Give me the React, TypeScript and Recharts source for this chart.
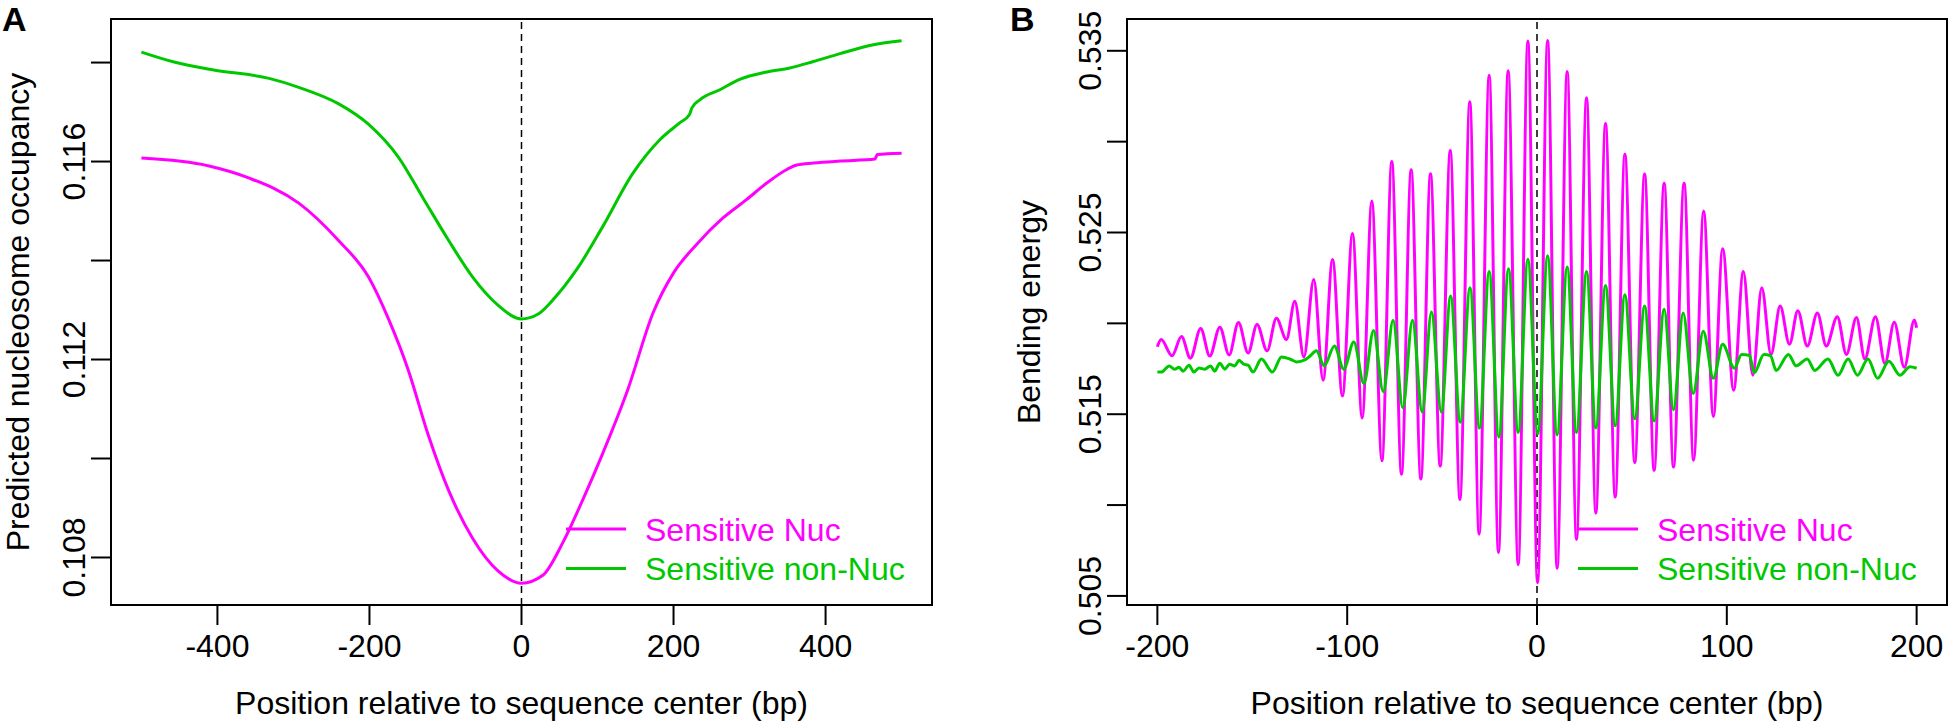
import React from "react";
import {
  LineChart,
  Line,
  XAxis,
  YAxis,
  ReferenceLine,
  ReferenceArea,
  Legend,
} from "recharts";

const FONT = '"Liberation Sans", Arial, Helvetica, sans-serif';
const NUC = "#ff00ff";
const NON_NUC = "#00c800";

// Panel A: predicted nucleosome occupancy
const occNucPos = [-500, -411, -359, -293, -241, -201, -175, -149, -123, -96, -64, -31, 0, 28, 54, 81, 107, 140, 173, 200, 230, 265, 296, 323, 349, 362, 384, 419, 465, 468, 500];
const occNucVal = [0.11607, 0.11591, 0.11567, 0.11516, 0.11441, 0.11366, 0.11282, 0.11179, 0.11049, 0.10936, 0.10838, 0.10773, 0.10748, 0.10764, 0.10829, 0.10918, 0.11011, 0.11140, 0.11294, 0.11375, 0.11432, 0.11486, 0.11523, 0.11557, 0.11584, 0.11593, 0.11597, 0.11601, 0.11605, 0.11614, 0.11617];
const occNonPos = [-500, -457, -405, -332, -293, -241, -201, -162, -129, -96, -64, -31, 0, 22, 41, 74, 107, 146, 182, 208, 221, 224, 235, 261, 287, 323, 353, 384, 419, 463, 500];
const occNonVal = [0.11821, 0.11801, 0.11785, 0.11768, 0.1175, 0.11717, 0.11675, 0.11609, 0.11525, 0.11441, 0.11366, 0.1131, 0.11282, 0.11292, 0.1132, 0.11385, 0.11469, 0.11575, 0.11644, 0.11678, 0.11695, 0.11708, 0.11725, 0.11745, 0.11766, 0.11781, 0.11789, 0.11802, 0.11818, 0.11836, 0.11844];

// Panel B: bending energy (peaks and troughs)
const bendNucPos = [-200, -198, -192.3, -187.3, -182.6, -177.2, -172.4, -167.1, -162.2, -157.3, -152.2, -147.5, -142.2, -137.3, -132, -127.6, -122.8, -117.6, -112.7, -107.7, -102.5, -97.2, -92.1, -87, -81.7, -76.5, -71.4, -66.3, -61.2, -56.1, -51, -45.7, -40.6, -35.4, -30.5, -25.2, -20.3, -15.2, -9.9, -4.8, 0.3, 5.6, 10.6, 15.9, 20.8, 26.1, 31, 36.1, 41.2, 46.3, 51.5, 56.7, 61.7, 67, 71.9, 77.5, 82.5, 87.8, 92.9, 97.8, 103.6, 108.7, 113.7, 118.4, 123.3, 128.1, 133, 137.4, 142.4, 147.7, 152.4, 158.2, 163, 168.3, 172.7, 178.3, 183.3, 188.2, 193.5, 198.8, 200];
const bendNucVal = [0.51871, 0.51911, 0.51822, 0.51927, 0.51808, 0.51972, 0.5182, 0.51979, 0.51826, 0.52005, 0.51837, 0.51994, 0.51849, 0.52028, 0.51911, 0.52122, 0.51815, 0.52241, 0.51687, 0.52351, 0.516, 0.52494, 0.51479, 0.52673, 0.51244, 0.52891, 0.5117, 0.52846, 0.51143, 0.52823, 0.51214, 0.52951, 0.51031, 0.5322, 0.5084, 0.53366, 0.50739, 0.5339, 0.50672, 0.53554, 0.50573, 0.53556, 0.50652, 0.53386, 0.50811, 0.53242, 0.50956, 0.531, 0.51044, 0.52931, 0.51234, 0.52822, 0.51191, 0.52771, 0.51209, 0.52771, 0.51247, 0.52619, 0.51487, 0.52411, 0.51632, 0.52285, 0.51715, 0.52196, 0.51829, 0.52095, 0.51885, 0.5207, 0.51875, 0.52057, 0.51875, 0.52037, 0.51829, 0.52032, 0.51804, 0.52037, 0.51779, 0.52006, 0.51758, 0.52019, 0.51976];
const bendNonPos = [-200, -197.9, -193.8, -190.9, -188.6, -186.5, -183.3, -180.8, -178, -175, -172, -169.8, -167.1, -164.5, -161.9, -159.2, -157, -154.5, -152.2, -149.6, -145.2, -139.4, -134.6, -130.2, -126.7, -122.3, -119.7, -116.2, -112.1, -106.7, -101.8, -96.5, -91.2, -86.1, -81, -75.8, -70.7, -65.6, -60.5, -55.6, -50.4, -45.5, -40.4, -35.3, -30.3, -25.2, -20.1, -15, -9.9, -4.8, 0.4, 5.6, 10.6, 15.9, 20.8, 26.1, 31, 36.1, 41.2, 46.3, 51.5, 56.7, 61.7, 67, 71.9, 77, 82.3, 87.6, 92.9, 97.8, 104, 107.8, 111.9, 114.5, 119.5, 123, 126, 132.5, 136.5, 142.4, 146.3, 153.3, 158.6, 163.9, 168.8, 174.4, 179.4, 185.4, 191.2, 196.5, 200];
const bendNonVal = [0.51732, 0.51732, 0.51766, 0.51748, 0.51759, 0.51737, 0.51769, 0.51732, 0.51754, 0.51748, 0.51766, 0.51737, 0.51781, 0.51748, 0.51775, 0.51766, 0.51797, 0.51775, 0.5177, 0.51732, 0.51804, 0.51732, 0.51815, 0.51804, 0.51788, 0.51799, 0.51819, 0.51849, 0.51766, 0.51876, 0.51748, 0.51898, 0.51669, 0.51961, 0.51624, 0.52017, 0.51535, 0.52017, 0.51512, 0.52062, 0.51512, 0.52151, 0.51456, 0.52196, 0.51423, 0.52286, 0.51374, 0.52301, 0.514, 0.52353, 0.51392, 0.52372, 0.51386, 0.5231, 0.51399, 0.52285, 0.51424, 0.52209, 0.51437, 0.52158, 0.51475, 0.52095, 0.51462, 0.52077, 0.51525, 0.52057, 0.51614, 0.51956, 0.51698, 0.51885, 0.51753, 0.51829, 0.51824, 0.51728, 0.51829, 0.51822, 0.51741, 0.51829, 0.51766, 0.51804, 0.51741, 0.51804, 0.51715, 0.51804, 0.51715, 0.51804, 0.51698, 0.51791, 0.51715, 0.51761, 0.51753];

const ticksXA = [-400, -200, 0, 200, 400];
const ticksYA = [0.108, 0.11, 0.112, 0.114, 0.116, 0.118];
const labelsYA = ["0.108", "0.112", "0.116"];
const ticksXB = [-200, -100, 0, 100, 200];
const ticksYB = [0.505, 0.51, 0.515, 0.52, 0.525, 0.53, 0.535];
const labelsYB = ["0.505", "0.515", "0.525", "0.535"];

const seriesNames = ["Sensitive Nuc", "Sensitive non-Nuc"];

const toPoints = (xs: number[], ys: number[]) => xs.map((x, i) => ({ x, y: ys[i] }));

const makeYTick = (labels: string[]) => (props: any) => {
  const { x, y, payload } = props;
  const txt = Number(payload.value).toFixed(3);
  if (!labels.includes(txt)) return <g />;
  const tx = x - 6;
  return (
    <text x={tx} y={y} transform={`rotate(-90 ${tx} ${y})`} textAnchor="middle" fontSize={32} fontFamily={FONT} fill="#000">
      {txt}
    </text>
  );
};

const XTick = (props: any) => {
  const { x, y, payload } = props;
  return (
    <text x={x} y={y + 32} textAnchor="middle" fontSize={32} fontFamily={FONT} fill="#000">
      {String(payload.value)}
    </text>
  );
};

const renderLegend = (props: any) => {
  const { payload } = props;
  return (
    <svg width={380} height={90} style={{ display: "block" }}>
      {(payload || []).map((p: any, i: number) => {
        const cy = 20 + i * 39.5;
        return (
          <g key={i}>
            <line x1={0} x2={60} y1={cy} y2={cy} stroke={p.color} strokeWidth={3} />
            <text x={79} y={cy + 11.5} fontSize={32} fontFamily={FONT} fill={p.color}>
              {p.value}
            </text>
          </g>
        );
      })}
    </svg>
  );
};

interface PanelProps {
  width: number;
  yAxisWidth: number;
  rightMargin: number;
  xDomain: [number, number];
  yDomain: [number, number];
  xTicks: number[];
  yTicks: number[];
  yLabels: string[];
  nuc: { x: number; y: number }[];
  non: { x: number; y: number }[];
  legendLeft: number;
}

function Panel({ width, yAxisWidth, rightMargin, xDomain, yDomain, xTicks, yTicks, yLabels, nuc, non, legendLeft }: PanelProps) {
  return (
    <LineChart width={width} height={723} margin={{ top: 19, right: rightMargin, bottom: 0, left: 0 }}>
      <XAxis
        type="number"
        dataKey="x"
        domain={xDomain}
        ticks={xTicks}
        allowDataOverflow
        axisLine={false}
        tickSize={20}
        tickMargin={0}
        tickLine={{ stroke: "#000", strokeWidth: 2 }}
        tick={XTick}
        height={118}
        interval={0}
      />
      <YAxis
        type="number"
        dataKey="y"
        domain={yDomain}
        ticks={yTicks}
        allowDataOverflow
        axisLine={false}
        tickSize={20}
        tickMargin={0}
        tickLine={{ stroke: "#000", strokeWidth: 2 }}
        tick={makeYTick(yLabels)}
        width={yAxisWidth}
        interval={0}
      />
      <ReferenceArea
        x1={xDomain[0]}
        x2={xDomain[1]}
        y1={yDomain[0]}
        y2={yDomain[1]}
        fill="none"
        fillOpacity={0}
        stroke="#000"
        strokeWidth={2}
        ifOverflow="visible"
      />
      <ReferenceLine x={0} stroke="#000" strokeWidth={1.5} strokeDasharray="7 5" />
      <Line
        data={nuc}
        dataKey="y"
        name={seriesNames[0]}
        type="monotone"
        stroke={NUC}
        strokeWidth={3}
        dot={false}
        legendType="line"
        isAnimationActive={false}
      />
      <Line
        data={non}
        dataKey="y"
        name={seriesNames[1]}
        type="monotone"
        stroke={NON_NUC}
        strokeWidth={3}
        dot={false}
        legendType="line"
        isAnimationActive={false}
      />
      <Legend
        layout="vertical"
        align="center"
        verticalAlign="middle"
        content={renderLegend}
        wrapperStyle={{ left: legendLeft, top: 509, width: 380, height: 90 }}
      />
    </LineChart>
  );
}

export default function App() {
  const textStyle = { fontFamily: FONT, fontSize: 32, fill: "#000" } as const;
  return (
    <div style={{ position: "absolute", left: 0, top: 0, width: 1950, height: 723, background: "#fff", overflow: "hidden" }}>
      <div style={{ position: "absolute", left: 0, top: 0 }}>
        <Panel
          width={960}
          yAxisWidth={111}
          rightMargin={28}
          xDomain={[-540, 540]}
          yDomain={[0.10704, 0.11888]}
          xTicks={ticksXA}
          yTicks={ticksYA}
          yLabels={labelsYA}
          nuc={toPoints(occNucPos, occNucVal)}
          non={toPoints(occNonPos, occNonVal)}
          legendLeft={566}
        />
      </div>
      <div style={{ position: "absolute", left: 1000, top: 0 }}>
        <Panel
          width={950}
          yAxisWidth={127}
          rightMargin={3}
          xDomain={[-216, 216]}
          yDomain={[0.5045, 0.53675]}
          xTicks={ticksXB}
          yTicks={ticksYB}
          yLabels={labelsYB}
          nuc={toPoints(bendNucPos, bendNucVal)}
          non={toPoints(bendNonPos, bendNonVal)}
          legendLeft={578}
        />
      </div>
      <svg width={1950} height={723} style={{ position: "absolute", left: 0, top: 0, pointerEvents: "none" }}>
        <text x={2} y={31} fontFamily={FONT} fontSize={34} fontWeight="bold" fill="#000">A</text>
        <text x={1010} y={31} fontFamily={FONT} fontSize={34} fontWeight="bold" fill="#000">B</text>
        <text x={29} y={312} transform="rotate(-90 29 312)" textAnchor="middle" {...textStyle}>
          Predicted nucleosome occupancy
        </text>
        <text x={1040} y={312} transform="rotate(-90 1040 312)" textAnchor="middle" {...textStyle}>
          Bending energy
        </text>
        <text x={521.5} y={714} textAnchor="middle" {...textStyle}>
          Position relative to sequence center (bp)
        </text>
        <text x={1537} y={714} textAnchor="middle" {...textStyle}>
          Position relative to sequence center (bp)
        </text>
      </svg>
    </div>
  );
}
